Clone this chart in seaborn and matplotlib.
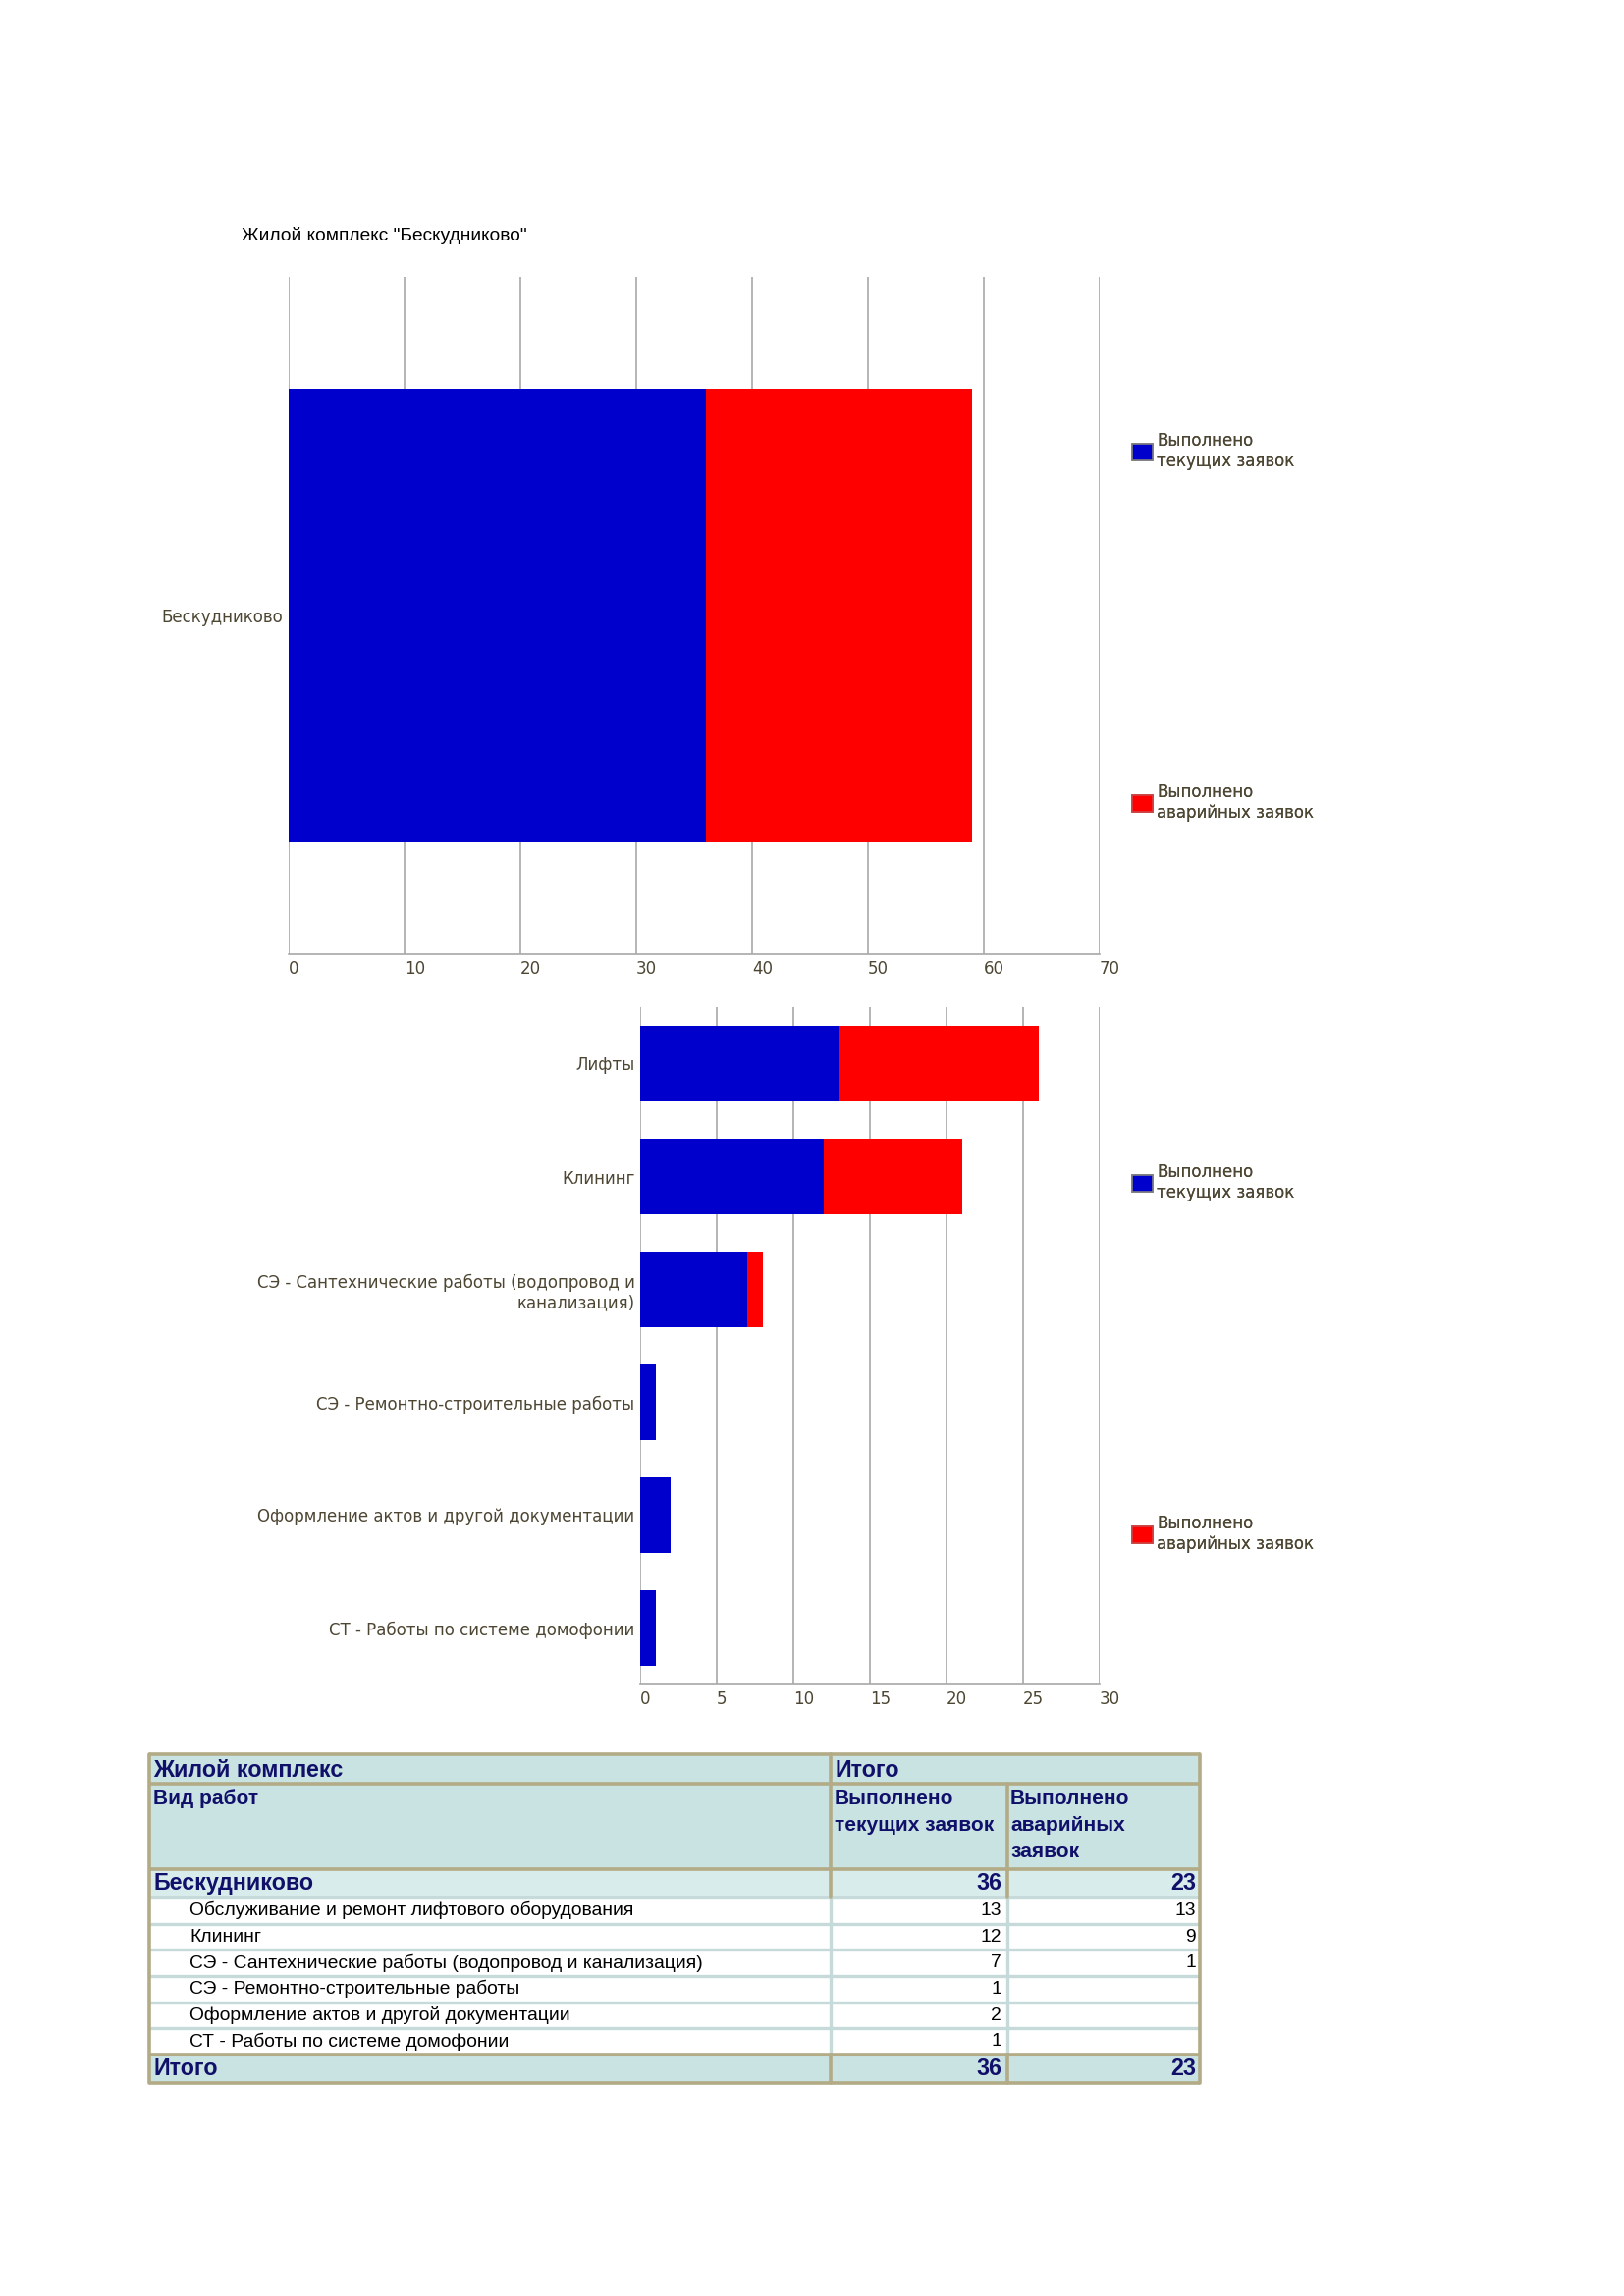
import matplotlib
matplotlib.use("Agg")
import matplotlib.pyplot as plt
from matplotlib.patches import Patch, Rectangle
import seaborn as sns

# ---------------- data ----------------
title_text = 'Жилой комплекс "Бескудниково"'
complex_names = ["Бескудниково"]
complex_current = [36]
complex_emergency = [23]

chart_categories = [
    "Лифты",
    "Клининг",
    "СЭ - Сантехнические работы (водопровод и\nканализация)",
    "СЭ - Ремонтно-строительные работы",
    "Оформление актов и другой документации",
    "СТ - Работы по системе домофонии",
]
table_categories = [
    "Обслуживание и ремонт лифтового оборудования",
    "Клининг",
    "СЭ - Сантехнические работы (водопровод и канализация)",
    "СЭ - Ремонтно-строительные работы",
    "Оформление актов и другой документации",
    "СТ - Работы по системе домофонии",
]
current = [13, 12, 7, 1, 2, 1]
emergency = [13, 9, 1, 0, 0, 0]

series_labels = ["Выполнено\nтекущих заявок", "Выполнено\nаварийных заявок"]
top_ticks = [0, 10, 20, 30, 40, 50, 60, 70]
bottom_ticks = [0, 5, 10, 15, 20, 25, 30]

# ---------------- style ----------------
BLUE = "#0000cc"
RED = "#ff0000"
GRID = "#a8a8a8"
TICKC = "#4d4633"
NAVY = "#10106a"

sns.set_style("white")
plt.rcParams["font.family"] = ["DejaVu Sans"]

W, H = 1654, 2339
DPI = 200
fig = plt.figure(figsize=(W / DPI, H / DPI), dpi=DPI)


def frac_box(left, top, right, bottom):
    return [left / W, 1 - bottom / H, (right - left) / W, (bottom - top) / H]


# ---------------- table (full-figure pixel axes) ----------------
axt = fig.add_axes([0, 0, 1, 1])
axt.set_xlim(0, W)
axt.set_ylim(H, 0)
axt.axis("off")

# ---------------- charts ----------------
def stacked_chart(ax, cats, cur, emg, ticks):
    totals = [c + e for c, e in zip(cur, emg)]
    sns.barplot(x=totals, y=cats, color=RED, saturation=1, width=0.67,
                orient="h", ax=ax, linewidth=0)
    sns.barplot(x=cur, y=cats, color=BLUE, saturation=1, width=0.67,
                orient="h", ax=ax, linewidth=0)
    ax.set_xlim(ticks[0], ticks[-1])
    ax.set_xticks(ticks)
    ax.set_xticklabels([str(t) for t in ticks])
    for lbl in ax.get_xticklabels():
        lbl.set_horizontalalignment("left")
    ax.xaxis.grid(True, color=GRID, linewidth=0.6)
    ax.set_axisbelow(True)
    for s in ["top", "right", "left"]:
        ax.spines[s].set_visible(False)
    ax.spines["bottom"].set_color(GRID)
    ax.spines["bottom"].set_linewidth(0.6)
    ax.tick_params(axis="x", length=0, pad=2, labelsize=6, labelcolor=TICKC)
    ax.tick_params(axis="y", length=0, pad=2, labelsize=6, labelcolor=TICKC)
    ax.set_xlabel("")
    ax.set_ylabel("")


ax1 = fig.add_axes(frac_box(294, 282, 1120, 972))
stacked_chart(ax1, complex_names, complex_current, complex_emergency, top_ticks)

ax2 = fig.add_axes(frac_box(652, 1026, 1120, 1716))
stacked_chart(ax2, chart_categories, current, emergency, bottom_ticks)


def add_legend_entry(label, color, edge, x, y):
    h = Patch(facecolor=color, edgecolor=edge, linewidth=0.6)
    leg = fig.legend([h], [label], loc="upper left",
                     bbox_to_anchor=(x / W, 1 - y / H), frameon=False,
                     borderpad=0, borderaxespad=0, handlelength=1.25,
                     handleheight=1.15, handletextpad=0.25, fontsize=6,
                     labelcolor=TICKC)
    fig.add_artist(leg)


add_legend_entry(series_labels[0], BLUE, "#808080", 1153, 440)
add_legend_entry(series_labels[1], RED, "#cc4444", 1153, 798)
add_legend_entry(series_labels[0], BLUE, "#808080", 1153, 1185)
add_legend_entry(series_labels[1], RED, "#cc4444", 1153, 1543)

fig.text(246 / W, 1 - 240 / H, title_text, fontsize=6.9, color="black",
         family=["Liberation Sans", "DejaVu Sans"], va="center", ha="left")

# ---------------- table drawing ----------------
TF = ["Liberation Sans", "DejaVu Sans"]
L, R = 152, 1222
C1, C2 = 846, 1026
HEAD_BG = "#c9e2e2"
SUB_BG = "#d8ecec"
KHAKI = "#b3ab86"
LIGHT = "#c6dada"

n = len(table_categories)
data_top = 1933
data_h = (2093 - 1933) / n
total_top, total_bot = 2093, 2122

def rect(x0, y0, x1, y1, fc):
    axt.add_patch(Rectangle((x0, y0), x1 - x0, y1 - y0, facecolor=fc,
                            edgecolor="none"))

rect(L, 1787, R, 1904, HEAD_BG)
rect(L, 1904, R, data_top, SUB_BG)
rect(L, data_top, R, total_top, "white")
rect(L, total_top, R, total_bot, HEAD_BG)

# light separators in data area
for i in range(n + 1):
    y = data_top + i * data_h
    axt.plot([L, R], [y, y], color=LIGHT, lw=1.2, solid_capstyle="butt")
for x in (C1, C2):
    axt.plot([x, x], [data_top, total_top], color=LIGHT, lw=1.2)
# khaki structure lines
for y in (1787, 1817, 1904, total_top, total_bot):
    axt.plot([L, R], [y, y], color=KHAKI, lw=1.3, solid_capstyle="butt")
for x in (L, R):
    axt.plot([x, x], [1787, total_bot], color=KHAKI, lw=1.3)
axt.plot([C1, C1], [1787, data_top], color=KHAKI, lw=1.3)
axt.plot([C2, C2], [1817, data_top], color=KHAKI, lw=1.3)
axt.plot([C1, C1], [total_top, total_bot], color=KHAKI, lw=1.3)
axt.plot([C2, C2], [total_top, total_bot], color=KHAKI, lw=1.3)

BIG = 8.4
MID = 7.5
SMALL = 6.95

axt.text(156, 1803, "Жилой комплекс", fontsize=BIG, fontweight="bold",
         color=NAVY, family=TF, va="center")
axt.text(850, 1803, "Итого", fontsize=BIG, fontweight="bold",
         color=NAVY, family=TF, va="center")
axt.text(156, 1823, "Вид работ", fontsize=MID, fontweight="bold",
         color=NAVY, family=TF, va="top")
axt.text(850, 1823, "Выполнено\nтекущих заявок", fontsize=MID,
         fontweight="bold", color=NAVY, family=TF, va="top", linespacing=1.55)
axt.text(1029, 1823, "Выполнено\nаварийных\nзаявок", fontsize=MID,
         fontweight="bold", color=NAVY, family=TF, va="top", linespacing=1.55)

yc = (1904 + data_top) / 2
axt.text(156, yc, complex_names[0], fontsize=BIG, fontweight="bold",
         color=NAVY, family=TF, va="center")
axt.text(1020, yc, str(complex_current[0]), fontsize=BIG, fontweight="bold",
         color=NAVY, family=TF, va="center", ha="right")
axt.text(1218, yc, str(complex_emergency[0]), fontsize=BIG, fontweight="bold",
         color=NAVY, family=TF, va="center", ha="right")

for i, (cat, c, e) in enumerate(zip(table_categories, current, emergency)):
    y = data_top + (i + 0.5) * data_h
    axt.text(193, y, cat, fontsize=SMALL, color="black", family=TF,
             va="center")
    axt.text(1020, y, str(c) if c else "", fontsize=SMALL, color="black",
             family=TF, va="center", ha="right")
    axt.text(1218, y, str(e) if e else "", fontsize=SMALL, color="black",
             family=TF, va="center", ha="right")

yt = (total_top + total_bot) / 2
axt.text(156, yt, "Итого", fontsize=BIG, fontweight="bold", color=NAVY,
         family=TF, va="center")
axt.text(1020, yt, str(sum(current)), fontsize=BIG, fontweight="bold",
         color=NAVY, family=TF, va="center", ha="right")
axt.text(1218, yt, str(sum(emergency)), fontsize=BIG, fontweight="bold",
         color=NAVY, family=TF, va="center", ha="right")

fig.savefig("out.png", dpi=DPI, facecolor="white")
